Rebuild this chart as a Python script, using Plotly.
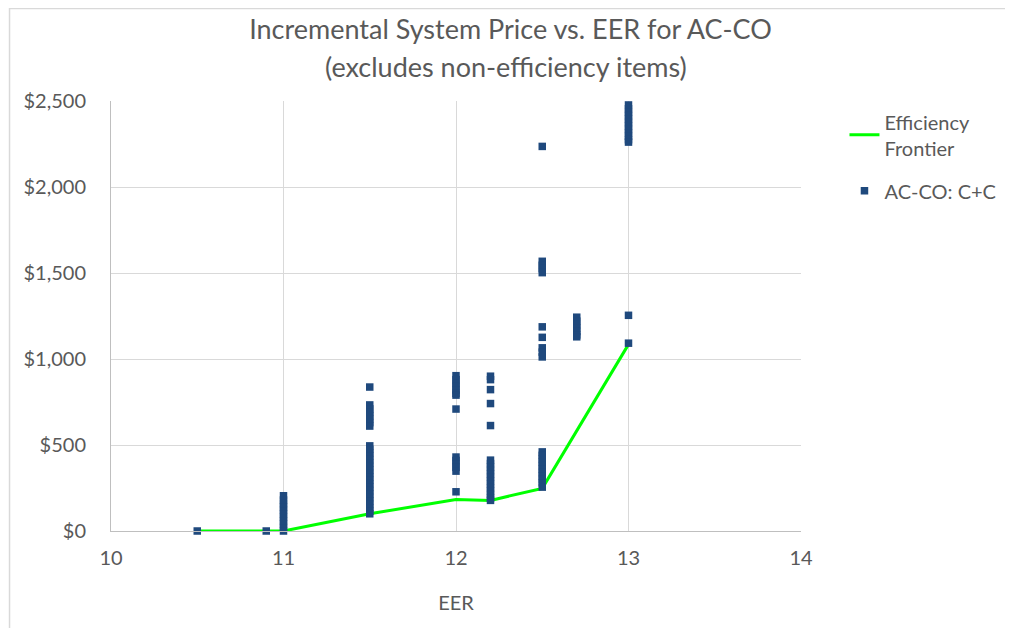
import plotly.graph_objects as go

# Efficiency frontier
frontier_eer = [10.5, 10.9, 11.0, 11.5, 12.0, 12.2, 12.5, 13.0]
frontier_price = [0, 0, 0, 100, 183, 178, 248, 1085]

# AC-CO: C+C scatter points, grouped by EER column
p_105 = [0]
p_109 = [0]
p_110 = [0, 20, 40, 60, 80, 100, 120, 140, 160, 180, 205]
p_115 = [837, 733, 710, 690, 670, 650, 630, 610,
         495, 475, 455, 435, 415, 395, 375, 355, 335, 315, 295, 275,
         255, 235, 215, 195, 175, 155, 135, 115, 100]
p_120 = [903, 880, 860, 840, 820, 800, 790, 709, 430, 410, 390, 370, 348, 228]
p_122 = [900, 880, 822, 741, 613, 412, 392, 372, 352, 332, 312, 292, 272,
         252, 232, 212, 192, 178]
p_125 = [2236, 1568, 1545, 1525, 1502, 1187, 1126, 1065, 1040, 1012,
         460, 440, 420, 400, 380, 360, 340, 320, 300, 280, 255]
p_127 = [1243, 1220, 1200, 1180, 1160, 1140, 1129]
p_130 = [2477, 2455, 2435, 2415, 2395, 2375, 2355, 2335, 2315, 2295, 2275,
         2261, 1254, 1092]

columns = [(10.5, p_105), (10.9, p_109), (11.0, p_110), (11.5, p_115),
           (12.0, p_120), (12.2, p_122), (12.5, p_125), (12.7, p_127),
           (13.0, p_130)]
scatter_x = [e for e, ps in columns for _ in ps]
scatter_y = [p for _, ps in columns for p in ps]

title_line1 = "Incremental System Price vs. EER for AC-CO"
title_line2 = "(excludes non-efficiency items)"

FONT = "Lato"
GREY = "#595959"
W, H = 1005, 620
ML, MR, MT, MB = 103, 205, 93, 97
PW, PH = W - ML - MR, H - MT - MB

fig = go.Figure()
fig.add_trace(go.Scatter(
    x=frontier_eer, y=frontier_price, mode="lines",
    name="Efficiency<br>Frontier", legendgroup="a",
    line=dict(color="#00FF00", width=3),
    cliponaxis=False,
))
fig.add_trace(go.Scatter(
    x=scatter_x, y=scatter_y, mode="markers",
    name="AC-CO: C+C", legendgroup="b",
    marker=dict(symbol="square", size=7.5, color="#1F497D",
                line=dict(width=0)),
    cliponaxis=False,
))

fig.update_layout(
    width=W, height=H,
    margin=dict(l=ML, r=MR, t=MT, b=MB),
    paper_bgcolor="white", plot_bgcolor="white",
    font=dict(family=FONT, color=GREY, size=20),
    title=dict(
        text=title_line1,
        x=0.5, xref="container", xanchor="center",
        y=1 - 22 / H, yref="container", yanchor="middle",
        font=dict(family=FONT, size=27, color=GREY),
    ),
    annotations=[dict(
        text=title_line2, xref="paper", yref="paper",
        x=(W / 2 - ML) / PW, y=(H - MB - 59) / PH,
        xanchor="center", yanchor="middle", showarrow=False,
        font=dict(family=FONT, size=27, color=GREY),
    )],
    xaxis=dict(
        range=[10, 14], dtick=1, tick0=10,
        showgrid=True, gridcolor="#D9D9D9", gridwidth=1,
        showline=True, linecolor="#BFBFBF", linewidth=1,
        zeroline=False, ticks="", ticklabelstandoff=9,
        tickfont=dict(size=20, color=GREY),
        title=dict(text="EER", font=dict(size=20, color=GREY), standoff=27),
    ),
    yaxis=dict(
        range=[0, 2500], dtick=500, tick0=0,
        tickprefix="$", tickformat=",",
        showgrid=True, gridcolor="#D9D9D9", gridwidth=1,
        showline=True, linecolor="#BFBFBF", linewidth=1,
        zeroline=False, ticks="", ticklabelstandoff=20,
        tickfont=dict(size=20, color=GREY),
    ),
    legend=dict(
        x=1.063, xanchor="left", y=0.997, yanchor="top",
        font=dict(size=20, color=GREY),
        bgcolor="rgba(0,0,0,0)", tracegroupgap=14,
    ),
    showlegend=True,
    shapes=[dict(type="rect", xref="paper", yref="paper",
                 x0=(0.5 - ML) / PW, x1=1.5, y0=-0.5,
                 y1=(H - MB - 0.5) / PH,
                 line=dict(color="#D9D9D9", width=1.5))],
)

fig.write_html("out.html")
